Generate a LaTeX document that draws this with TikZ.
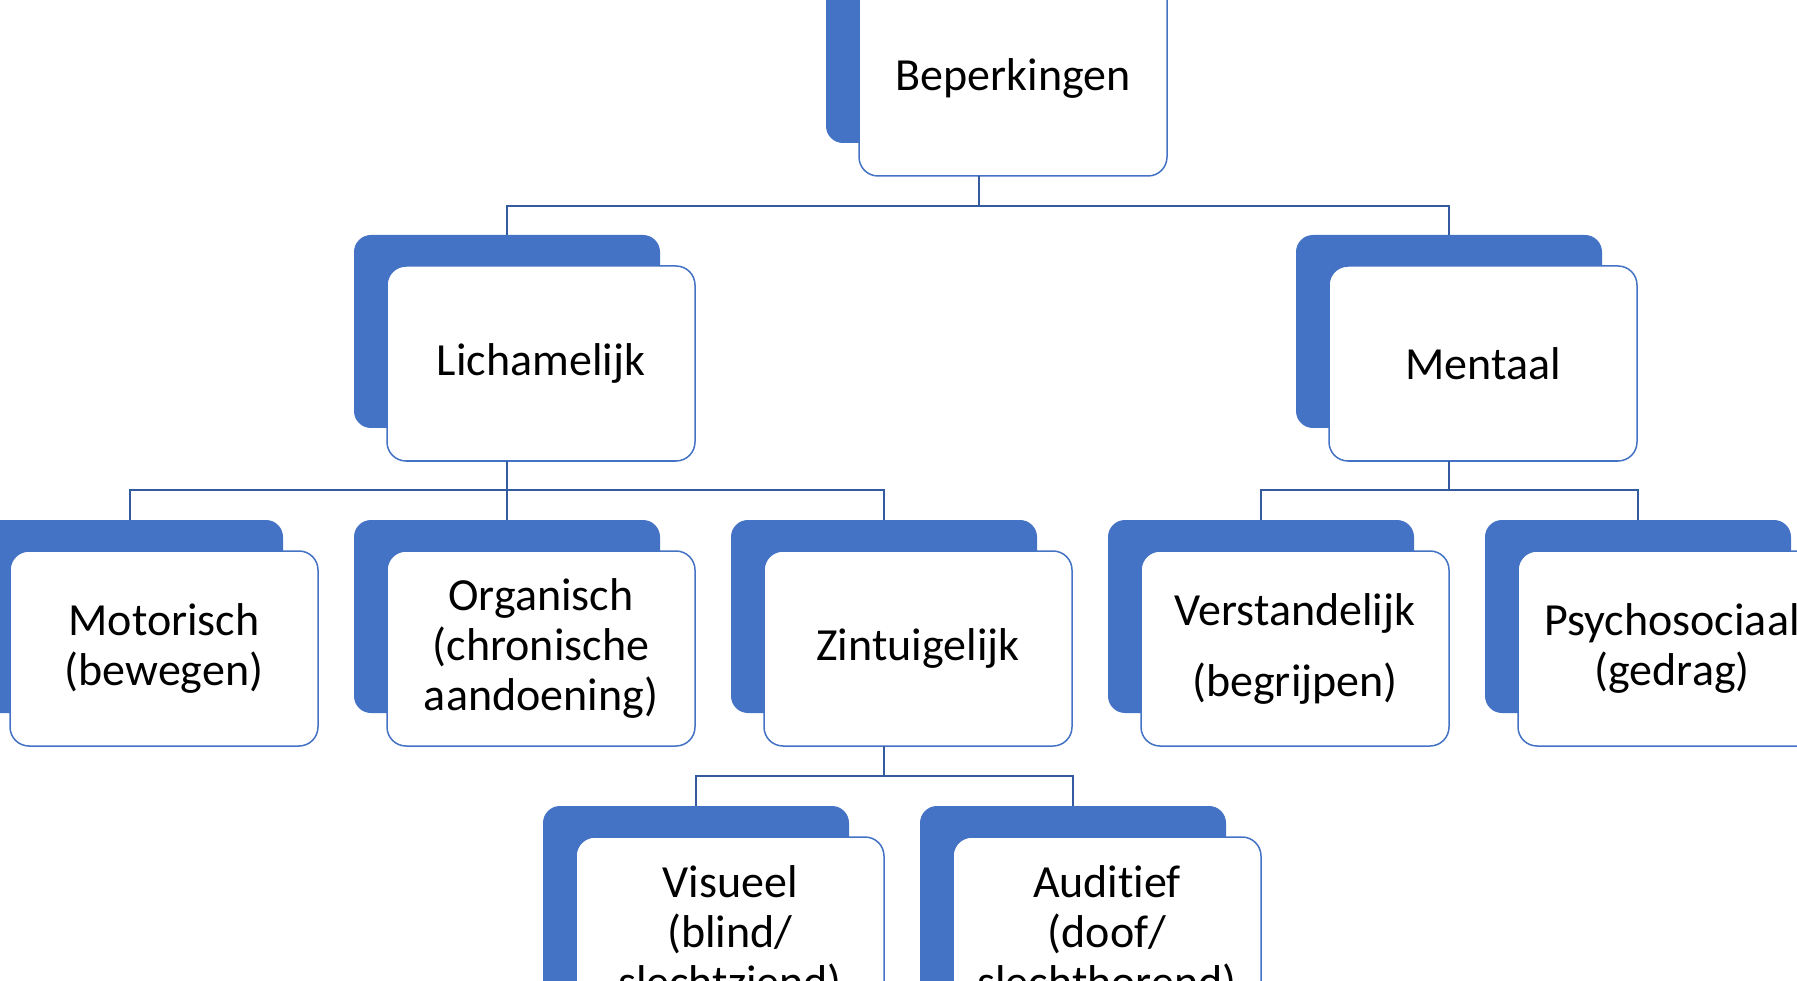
\documentclass[tikz,border=0pt]{standalone}
\usepackage{fontspec}
\setmainfont{Carlito}[Ligatures={NoCommon}]
\definecolor{accblue}{HTML}{4472C4}
\definecolor{connblue}{RGB}{52,90,160}
\tikzset{
  bluebox/.style={draw=none, fill=accblue, rounded corners=17pt, anchor=north west,
    minimum width=306pt, minimum height=193pt, inner sep=0pt, outer sep=0pt},
  whitebox/.style={draw=accblue, fill=white, line width=1.5pt, rounded corners=19pt, anchor=north west,
    minimum width=308pt, minimum height=195pt, inner sep=0pt, outer sep=0pt, align=center,
    font=\fontsize{46}{50}\selectfont, text=black},
  conn/.style={draw=connblue, line width=1.6pt}
}
\newcommand{\mycard}[4]{%
  \node[bluebox] (#1-b) at (#2,#3) {};
  \node[whitebox] (#1) at ({#2+33},{#3+31}) {#4};
}
\newcommand{\myconn}[3]{%
  \draw[conn] (#1-b.center |- #1.south) -- (#1-b.center |- 0,#3) -| (#2-b.north);
}
\begin{document}
\begin{tikzpicture}[x=1pt,y=-1pt]
\clip (0,0) rectangle (1797,981);
\fill[white] (0,0) rectangle (1797,981);
\mycard{beperk}{826}{-50}{Beperkingen}
\mycard{lich}{354}{235}{Lichamelijk}
\mycard{ment}{1296}{235}{Mentaal}
\mycard{mot}{-23}{520}{Motorisch\\(bewegen)}
\mycard{org}{354}{520}{Organisch\\(chronische\\aandoening)}
\mycard{zin}{731}{520}{Zintuigelijk}
\mycard{ver}{1108}{520}{Verstandelijk\\[21pt](begrijpen)}
\mycard{psy}{1485}{520}{Psychosociaal\\(gedrag)}
\mycard{vis}{543}{806}{Visueel\\(blind/\\slechtziend)}
\mycard{aud}{920}{806}{Auditief\\(doof/\\slechthorend)}
\myconn{beperk}{lich}{206}
\myconn{beperk}{ment}{206}
\myconn{lich}{mot}{490}
\myconn{lich}{org}{490}
\myconn{lich}{zin}{490}
\myconn{ment}{ver}{490}
\myconn{ment}{psy}{490}
\myconn{zin}{vis}{776}
\myconn{zin}{aud}{776}
\end{tikzpicture}
\end{document}
